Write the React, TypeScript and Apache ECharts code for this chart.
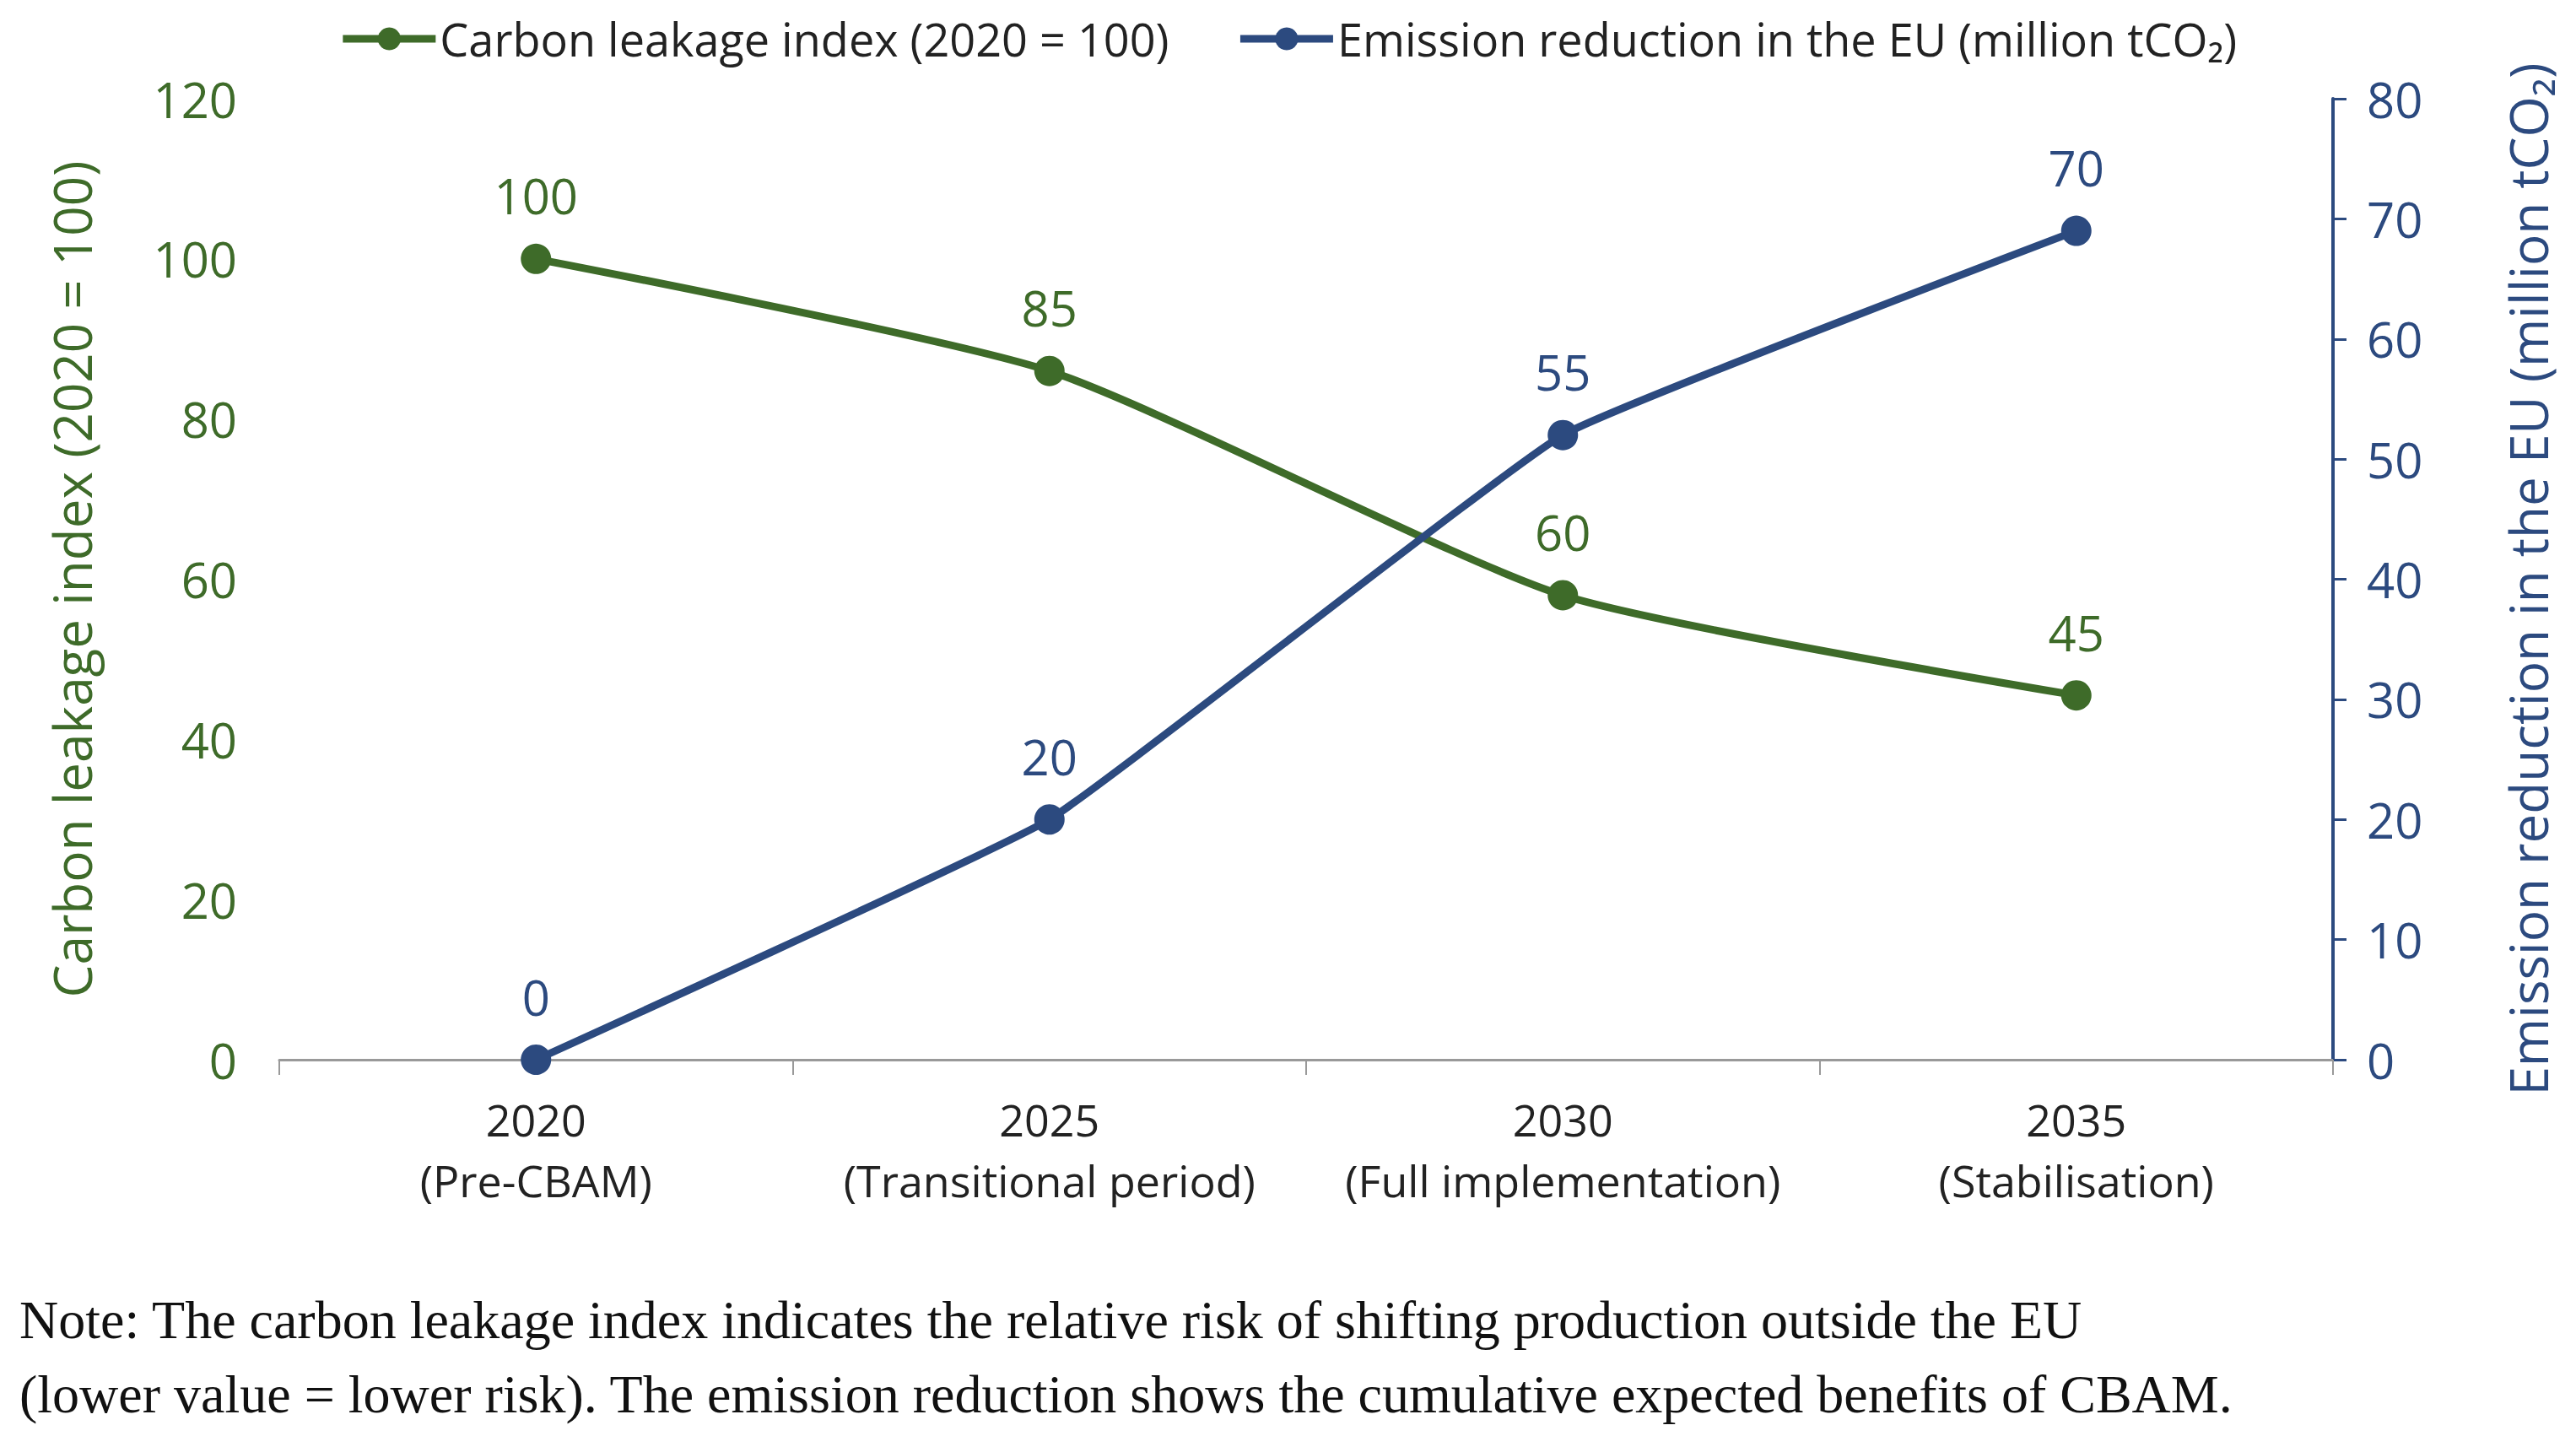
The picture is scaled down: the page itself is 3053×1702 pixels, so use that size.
import { useEffect, useRef } from 'react'
import * as echarts from 'echarts'

const categories = ['2020\n(Pre-CBAM)', '2025\n(Transitional period)', '2030\n(Full implementation)', '2035\n(Stabilisation)']
const leakage = [100, 86, 58, 45.5]
const leakageLabels = ['100', '85', '60', '45']
const emission = [0, 20, 52, 69]
const emissionLabels = ['0', '20', '55', '70']

const GREEN = '#3e6b29'
const BLUE = '#2c4a7f'
const FONT = '"Open Sans", "Noto Sans", sans-serif'

export default function App() {
  const ref = useRef<HTMLDivElement>(null)

  useEffect(() => {
    document.body.style.margin = '0'
    if (!ref.current) return
    const chart = echarts.init(ref.current, null, { renderer: 'svg' })
    chart.setOption({
      animation: false,
      textStyle: { fontFamily: FONT },
      legend: {
        top: 14, left: 'center', itemWidth: 110, itemHeight: 34, itemGap: 80,
        textStyle: { fontSize: 54, color: '#222', fontFamily: FONT },
        lineStyle: { width: 9 },
        data: ['Carbon leakage index (2020 = 100)', 'Emission reduction in the EU (million tCO₂)'],
      },
      grid: { left: 331, right: 288, top: 117, bottom: 446 },
      xAxis: {
        type: 'category', data: categories, boundaryGap: true,
        axisLine: { lineStyle: { color: '#999', width: 3 } },
        axisTick: { show: true, interval: 0, length: 18, lineStyle: { color: '#999', width: 2 } },
        axisLabel: { interval: 0, fontSize: 52, color: '#222', lineHeight: 72, margin: 34 },
      },
      yAxis: [
        {
          type: 'value', min: 0, max: 120, interval: 20, position: 'left',
          name: 'Carbon leakage index (2020 = 100)', nameLocation: 'middle', nameGap: 215,
          nameTextStyle: { fontSize: 62, color: GREEN },
          axisLine: { show: false }, axisTick: { show: false }, splitLine: { show: false },
          axisLabel: { fontSize: 58, color: GREEN, margin: 50 },
        },
        {
          type: 'value', min: 0, max: 80, interval: 10, position: 'right',
          name: 'Emission reduction in the EU (million tCO₂)', nameLocation: 'middle', nameGap: 200,
          nameRotate: 90,
          nameTextStyle: { fontSize: 62, color: BLUE },
          axisLine: { show: true, lineStyle: { color: BLUE, width: 4 } },
          axisTick: { show: true, length: 16, lineStyle: { color: BLUE, width: 3 } },
          splitLine: { show: false },
          axisLabel: { fontSize: 58, color: BLUE, margin: 40 },
        },
      ],
      series: [
        {
          name: 'Carbon leakage index (2020 = 100)', type: 'line', yAxisIndex: 0, data: leakage,
          smooth: 0.2, symbol: 'circle', symbolSize: 36,
          lineStyle: { color: GREEN, width: 9 }, itemStyle: { color: GREEN },
          label: {
            show: true, position: 'top', distance: 28, fontSize: 58, color: GREEN,
            formatter: (p: any) => leakageLabels[p.dataIndex],
          },
        },
        {
          name: 'Emission reduction in the EU (million tCO₂)', type: 'line', yAxisIndex: 1, data: emission,
          smooth: 0.1, symbol: 'circle', symbolSize: 36,
          lineStyle: { color: BLUE, width: 9 }, itemStyle: { color: BLUE },
          label: {
            show: true, position: 'top', distance: 28, fontSize: 58, color: BLUE,
            formatter: (p: any) => emissionLabels[p.dataIndex],
          },
        },
      ],
      graphic: [
        {
          type: 'text', left: 23, top: 1520,
          style: {
            text: 'Note: The carbon leakage index indicates the relative risk of shifting production outside the EU\n(lower value = lower risk). The emission reduction shows the cumulative expected benefits of CBAM.',
            fontSize: 64, lineHeight: 88, fill: '#111', fontFamily: '"Liberation Serif", serif',
          },
        },
      ],
    })
    return () => chart.dispose()
  }, [])

  return <div ref={ref} style={{ width: 3053, height: 1702, background: '#fff' }} />
}
